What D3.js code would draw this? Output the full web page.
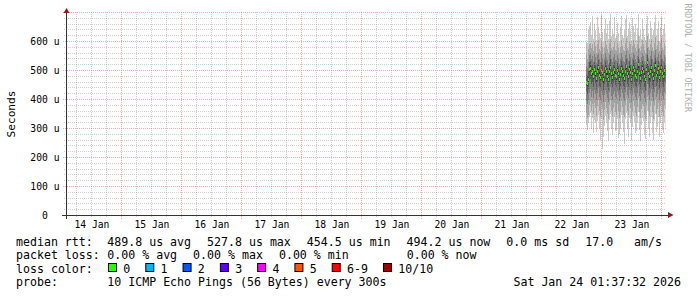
<!DOCTYPE html>
<html>
<head>
<meta charset="utf-8">
<script src="https://cdn.jsdelivr.net/npm/d3@7"></script>
<style>
  body { margin: 0; background: #fff; }
  svg { display: block; }
  text { white-space: pre; }
</style>
</head>
<body>
<svg id="graph" width="697" height="297"></svg>
<script>
// graph window (10 days ending at the time stamp in the legend)
const startTime = new Date(Date.UTC(2026, 0, 14, 1, 37, 32));
const endTime = new Date(Date.UTC(2026, 0, 24, 1, 37, 32));
const firstSample = new Date(Date.UTC(2026, 0, 22, 18, 0, 0));
const stepMinutes = 24;

// median rtt per step, in microseconds
const median = [
  458,454.5,470,502,508,488,496,478,505,490,
  472,498,510,484,476,500,492,468,486,506,
  495,480,470,498,512,488,476,492,502,484,
  478,500,490,470,486,508,496,482,474,498,
  515,490,480,505,494,470,488,510,500,484,
  476,496,520,488,474,492,506,498,480,470,
  502,527.8,490,478,496,510,486,474,500,518,
  484,492,506,476,498,512,488,480,500,494.2];

// the 10 pings of every step (sorted low to high), microseconds
const ping1 = [
  312,296,318,340,352,300,336,284,330,318,
  288,326,346,302,262,334,231,270,310,342,
  318,292,256,330,350,300,276,318,338,290,
  296,332,266,282,300,346,318,288,248,332,
  352,300,270,336,318,262,306,344,322,284,
  292,320,356,296,258,312,336,326,280,264,
  326,360,300,272,320,340,286,262,326,350,
  288,306,338,270,318,344,296,284,324,306];
const ping2 = [
  352,336,348,380,394,362,386,350,388,370,
  342,376,398,360,344,384,366,330,364,392,
  372,350,334,380,400,360,342,370,388,356,
  348,384,362,336,356,394,374,348,338,380,
  402,362,346,388,372,332,362,396,376,352,
  344,374,404,358,336,368,386,378,346,332,
  380,410,362,342,376,394,356,334,380,402,
  350,366,388,338,376,396,358,344,380,366];
const ping3 = [
  396,384,400,424,436,410,428,404,432,418,
  398,424,440,410,400,430,416,392,414,434,
  420,404,392,426,442,412,398,418,430,410,
  402,428,414,394,408,436,422,404,396,426,
  444,414,404,432,420,392,414,438,424,408,
  400,422,446,412,396,418,432,424,404,392,
  428,452,414,400,422,436,410,394,426,444,
  408,418,432,398,424,438,412,402,426,418];
const ping4 = [
  430,420,436,466,472,452,462,444,470,456,
  436,462,478,448,440,464,456,432,452,470,
  460,444,434,462,478,452,440,458,466,450,
  440,466,452,434,448,474,460,446,436,462,
  480,454,444,470,458,434,452,476,462,448,
  440,460,484,452,436,456,470,462,444,434,
  466,492,454,440,460,474,450,436,464,480,
  448,456,470,440,462,476,452,442,464,458];
const ping5 = [
  450,448,460,494,498,480,486,470,498,480,
  464,488,502,474,468,490,484,458,478,498,
  486,470,462,488,504,480,466,484,492,476,
  468,492,480,462,476,500,486,474,464,490,
  506,482,470,496,484,462,478,502,490,476,
  466,488,510,480,464,484,496,490,470,462,
  492,520,482,468,488,500,478,464,492,508,
  476,482,498,466,490,502,480,470,492,486];
const ping6 = [
  466,462,480,510,518,496,506,486,512,500,
  480,508,518,494,484,510,500,478,494,514,
  504,490,478,508,520,496,486,500,512,492,
  488,508,500,478,496,516,506,490,484,506,
  524,498,490,514,504,478,498,518,510,492,
  486,504,530,496,484,500,516,506,490,478,
  512,536,498,488,504,520,494,484,508,528,
  492,502,514,486,506,522,496,490,508,502];
const ping7 = [
  486,480,498,528,534,514,522,506,530,518,
  500,524,536,512,502,528,518,496,512,532,
  520,508,498,526,538,512,504,520,528,510,
  506,526,516,498,514,534,522,508,502,524,
  540,516,506,532,520,498,516,536,526,510,
  504,522,546,514,502,518,534,522,508,498,
  530,552,516,506,522,538,512,502,526,544,
  510,520,532,504,524,540,514,506,526,520];
const ping8 = [
  514,508,530,552,560,540,550,530,556,548,
  526,552,562,538,530,556,544,522,540,560,
  548,536,524,552,566,540,530,546,556,536,
  532,554,542,524,540,562,548,534,528,552,
  568,542,532,558,548,524,544,562,552,538,
  530,550,574,540,528,546,560,550,534,524,
  558,578,542,532,550,566,538,528,554,572,
  536,548,560,530,552,568,540,534,554,546];
const ping9 = [
  552,540,574,590,596,578,592,566,600,584,
  562,590,604,574,568,596,580,556,578,602,
  588,574,560,594,610,576,570,582,598,572,
  568,596,578,560,582,604,586,570,566,594,
  612,578,572,598,590,560,586,606,592,576,
  566,592,618,576,568,584,604,590,572,560,
  600,620,582,570,590,610,576,566,596,614,
  574,588,602,566,594,612,578,572,596,584];
const ping10 = [
  600,596,640,652,668,624,688,610,660,640,
  606,684,650,628,612,690,634,598,642,676,
  630,660,610,672,694,618,640,626,684,612,
  620,664,630,598,650,688,624,612,640,676,
  692,620,644,666,636,602,680,652,632,660,
  604,648,694,620,640,610,676,644,616,604,
  660,688,630,610,672,646,620,640,666,690,
  618,642,670,600,650,684,622,644,660,628];

// y axis
const yTicks = [0, 100, 200, 300, 400, 500, 600];
const yTickLabels = ["0  ", "100 u", "200 u", "300 u", "400 u", "500 u", "600 u"];
const yMax = 700;

// legend
const medianLine = ["median rtt:", "489.8 us avg", "527.8 us max", "454.5 us min",
                    "494.2 us now", "0.0 ms sd", "17.0   am/s"];
const lossLine = ["packet loss:", "0.00 % avg", "0.00 % max", "0.00 % min", "0.00 % now"];
const lossLabels = ["0", "1", "2", "3", "4", "5", "6-9", "10/10"];
const lossColors = ["#26ff00", "#00b8ff", "#0059ff", "#5e00ff", "#ff00ff",
                    "#ff5500", "#ff0000", "#a10000"];
const probeLine = ["probe:", "10 ICMP Echo Pings (56 Bytes) every 300s"];
const stamp = "Sat Jan 24 01:37:32 2026";

// smoke shades, outer pair of pings first
const smokeColors = ["#cacaca", "#a4a4a4", "#7e7e7e", "#585858", "#323232"];

const mono = "'DejaVu Sans Mono', monospace";

function init() {
    const svg = d3.select("#graph");
    const left = 65.5, right = 665.5, top = 12.5, bottom = 215.5;

    const x = d3.scaleUtc().domain([startTime, endTime]).range([left, right]);
    const y = d3.scaleLinear().domain([0, yMax]).range([bottom, top]);

    svg.append("defs").append("clipPath").attr("id", "plot-clip")
        .append("rect")
        .attr("x", left).attr("y", top - 0.5)
        .attr("width", right - left).attr("height", bottom - top);

    smoke(svg, x, y);
    grid(svg, x, y, left, right, top, bottom);
    axes(svg, x, y, left, right, top, bottom);
    legend(svg);
}

function smoke(svg, x, y) {
    const pings = [ping1, ping2, ping3, ping4, ping5, ping6, ping7, ping8, ping9, ping10];
    const columns = median.map((m, i) => {
        const t = d3.utcMinute.offset(firstSample, i * stepMinutes);
        return {
            t: t,
            t2: d3.utcMinute.offset(t, stepMinutes),
            m: m,
            v: pings.map(p => p[i]).sort((a, b) => a - b)
        };
    });

    const plot = svg.append("g").attr("clip-path", "url(#plot-clip)");

    // one band per pair of pings, outer first
    smokeColors.forEach((c, k) => {
        plot.append("g").selectAll("rect")
            .data(columns)
            .join("rect")
            .attr("x", d => x(d.t))
            .attr("width", d => x(d.t2) - x(d.t))
            .attr("y", d => y(d.v[9 - k]))
            .attr("height", d => y(d.v[k]) - y(d.v[9 - k]))
            .attr("fill", c)
            .attr("shape-rendering", "crispEdges");
    });

    // median, coloured by loss (no loss here)
    plot.append("g").selectAll("rect")
        .data(columns)
        .join("rect")
        .attr("x", d => x(d.t))
        .attr("width", d => x(d.t2) - x(d.t))
        .attr("y", d => y(d.m) - 1.5)
        .attr("height", 3)
        .attr("fill", lossColors[0])
        .attr("shape-rendering", "crispEdges");
}

function grid(svg, x, y, left, right, top, bottom) {
    const g = svg.append("g").attr("shape-rendering", "crispEdges");
    const minorCol = "rgba(150,150,150,0.45)";
    const majorCol = "rgba(225,70,70,0.45)";
    const px = v => Math.floor(v) + 0.5;

    const majorY = y.ticks(7).filter(d => d > 0);
    const minorY = y.ticks(35).filter(d => d > 0 && d % 100 !== 0);
    const majorX = x.ticks(d3.utcDay.every(1));
    const minorX = x.ticks(d3.utcHour.every(6)).filter(d => d.getUTCHours() !== 0);

    g.selectAll(".hmin").data(minorY).join("line")
        .attr("x1", left - 2).attr("x2", right)
        .attr("y1", d => px(y(d))).attr("y2", d => px(y(d)))
        .attr("stroke", minorCol).attr("stroke-dasharray", "1,1");
    g.selectAll(".vmin").data(minorX).join("line")
        .attr("x1", d => px(x(d))).attr("x2", d => px(x(d)))
        .attr("y1", top - 0.5).attr("y2", bottom + 2)
        .attr("stroke", minorCol).attr("stroke-dasharray", "1,1");
    g.selectAll(".hmaj").data(majorY).join("line")
        .attr("x1", left - 3).attr("x2", right)
        .attr("y1", d => px(y(d))).attr("y2", d => px(y(d)))
        .attr("stroke", majorCol).attr("stroke-dasharray", "1,1");
    g.selectAll(".vmaj").data(majorX).join("line")
        .attr("x1", d => px(x(d))).attr("x2", d => px(x(d)))
        .attr("y1", top - 0.5).attr("y2", bottom + 3)
        .attr("stroke", majorCol).attr("stroke-dasharray", "1,1");
}

function axes(svg, x, y, left, right, top, bottom) {
    // day labels sit at noon
    const noons = d3.utcDay.range(d3.utcDay.floor(startTime), endTime)
        .map(d => d3.utcHour.offset(d, 12))
        .filter(d => d > startTime && d < endTime);

    const xAxis = d3.axisBottom(x)
        .tickValues(noons)
        .tickFormat(d3.utcFormat("%d %b"))
        .tickSize(0);
    svg.append("g")
        .attr("transform", "translate(0," + (bottom - 0.5) + ")")
        .call(xAxis)
        .attr("font-family", mono).attr("font-size", 9.7)
        .call(g => g.select(".domain").remove())
        .selectAll("text").attr("y", 12.5).attr("dy", null).attr("fill", "#000");

    const yAxis = d3.axisLeft(y)
        .tickValues(yTicks)
        .tickFormat((d, i) => yTickLabels[i])
        .tickSize(0)
        .tickPadding(0);
    svg.append("g")
        .attr("transform", "translate(59.5,0)")
        .call(yAxis)
        .attr("font-family", mono).attr("font-size", 9.7)
        .call(g => g.select(".domain").remove())
        .selectAll("text").attr("fill", "#000");

    // axis lines and arrows
    svg.append("line")
        .attr("x1", left - 3.5).attr("x2", right + 3)
        .attr("y1", bottom - 0.5).attr("y2", bottom - 0.5)
        .attr("stroke", "#333").attr("shape-rendering", "crispEdges");
    svg.append("line")
        .attr("x1", left + 1).attr("x2", left + 1)
        .attr("y1", bottom + 3).attr("y2", top)
        .attr("stroke", "#333").attr("shape-rendering", "crispEdges");
    svg.append("path")
        .attr("d", `M${left - 2},${top + 0.5}L${left + 4},${top + 0.5}L${left + 1},${top - 4.5}Z`)
        .attr("fill", "#951a1a");
    svg.append("path")
        .attr("d", `M${right + 2.5},${bottom - 3.5}L${right + 2.5},${bottom + 2.5}L${right + 8},${bottom - 0.5}Z`)
        .attr("fill", "#951a1a");

    // unit label
    svg.append("text")
        .attr("transform", "translate(15," + ((top + bottom) / 2) + ") rotate(-90)")
        .attr("text-anchor", "middle")
        .attr("font-family", mono).attr("font-size", 11.2)
        .attr("fill", "#000")
        .text("Seconds");

    // watermark
    svg.append("text")
        .attr("transform", "translate(684.5,3.5) rotate(90)")
        .attr("font-family", mono).attr("font-size", 8.2)
        .attr("fill", "#b0b0b0")
        .text("RRDTOOL / TOBI OETIKER");
}

function legend(svg) {
    const g = svg.append("g")
        .attr("font-family", mono).attr("font-size", 11.6).attr("fill", "#000");
    const gap = 16;

    // place chunks one after another, some jump to a tab stop
    function row(chunks, baseline, stops) {
        let cx = 16;
        chunks.forEach((s, i) => {
            if (stops[i] !== undefined) cx = stops[i];
            const t = g.append("text").attr("x", cx).attr("y", baseline).text(s);
            cx += t.node().getComputedTextLength() + gap;
        });
    }

    row(medianLine, 245.5, { 1: 107.3 });
    row(lossLine, 259, { 1: 107.3, 4: 406.7 });
    row(probeLine, 286, { 1: 107.3 });

    g.append("text").attr("x", 16).attr("y", 272.5).text("loss color:");
    let bx = 108.5;
    lossLabels.forEach((lab, i) => {
        g.append("rect")
            .attr("x", bx).attr("y", 263.5)
            .attr("width", 8).attr("height", 8)
            .attr("fill", lossColors[i])
            .attr("stroke", "#000").attr("stroke-width", 1);
        const t = g.append("text").attr("x", bx + 14.8).attr("y", 272.5).text(lab);
        bx = bx + 14.8 + t.node().getComputedTextLength() + 15.5;
    });

    g.append("text")
        .attr("x", 681).attr("y", 286)
        .attr("text-anchor", "end")
        .text(stamp);
}

window.onload = init;
</script>
</body>
</html>
